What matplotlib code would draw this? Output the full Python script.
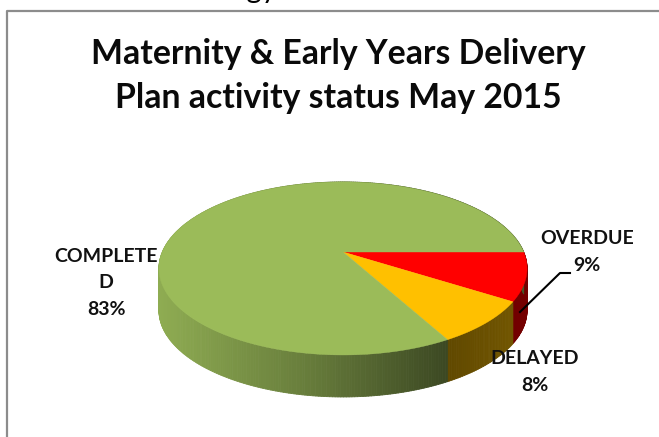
import numpy as np
import matplotlib
matplotlib.use('Agg')
import matplotlib.pyplot as plt
from matplotlib.collections import PolyCollection

# Slices, clockwise from the right hand side
labels = ['OVERDUE', 'DELAYED', 'COMPLETED']
values = [9, 8, 83]
colors = ['#FF0000', '#FFC000', '#9BBB59']

title = 'Maternity & Early Years Delivery\nPlan activity status May 2015'

plt.rcParams['font.family'] = ['Lato', 'DejaVu Sans']

fig = plt.figure(figsize=(6.59, 4.37), dpi=100)
ax = fig.add_axes([0, 0, 1, 1])
ax.set_xlim(0, 659)
ax.set_ylim(437, 0)
ax.axis('off')

# perspective of the tilted disc, in pixels
apex_x, apex_y = 343, 252
persp = -0.19
scale_x, scale_y = 180.7, 83.4
depth = 42


def rim(theta):
    u, v = np.cos(theta), np.sin(theta)
    d = 1 + persp * v
    return apex_x + scale_x * u / d, apex_y + scale_y * v / d


def shade(x):
    return np.interp(x, [159, 300, 450, 527], [0.92, 0.68, 0.38, 0.46])


edges = np.cumsum([0] + values) / sum(values) * 2 * np.pi

# side wall first, the top face covers the back part
quads = []
quad_colors = []
for start, end, c in zip(edges[:-1], edges[1:], colors):
    n = max(int((end - start) * 80), 2)
    th = np.linspace(start, end, n + 1)
    xs, ys = rim(th)
    base = np.array(matplotlib.colors.to_rgb(c))
    for i in range(n):
        quads.append([(xs[i], ys[i]), (xs[i + 1], ys[i + 1]),
                      (xs[i + 1], ys[i + 1] + depth), (xs[i], ys[i] + depth)])
        quad_colors.append(base * shade((xs[i] + xs[i + 1]) / 2))
ax.add_collection(PolyCollection(quads, facecolors=quad_colors, edgecolors=quad_colors, linewidths=0.6))

# top face
for start, end, c in zip(edges[:-1], edges[1:], colors):
    th = np.linspace(start, end, 300)
    xs, ys = rim(th)
    ax.fill(np.r_[apex_x, xs], np.r_[apex_y, ys], color=c, lw=0.3, zorder=3)

# chart frame, runs off the right and bottom of the crop
ax.plot([6.5, 6.5, 659], [437, 10.5, 10.5], color='#8C8C8C', lw=1.6, zorder=1, clip_on=False)

# slide title cut off by the top of the picture
ax.text(277, -2, 'Strategy', fontsize=21, ha='right', va='baseline', color='black')

ax.text(338, 76, title, fontsize=24.3, fontweight='bold', ha='center', va='center',
        linespacing=1.45, color='#0a0a0a')

# labels
lab_size = 14
ax.text(106, 283, 'COMPLETE\nD\n%d%%' % values[2], fontsize=lab_size, fontweight='bold',
        ha='center', va='center', linespacing=1.68, color='#111111', zorder=5)
ax.text(587, 252, '%s\n%d%%' % (labels[0], values[0]), fontsize=lab_size, fontweight='bold',
        ha='center', va='center', linespacing=1.68, color='#111111', zorder=5)
ax.text(535, 372, '%s\n%d%%' % (labels[1], values[1]), fontsize=lab_size, fontweight='bold',
        ha='center', va='center', linespacing=1.68, color='#111111', zorder=5)

# leader line for the overdue label
ax.plot([520, 560, 570], [312, 273, 273], color='black', lw=1.5, zorder=4)

plt.savefig('out.png', dpi=100)
